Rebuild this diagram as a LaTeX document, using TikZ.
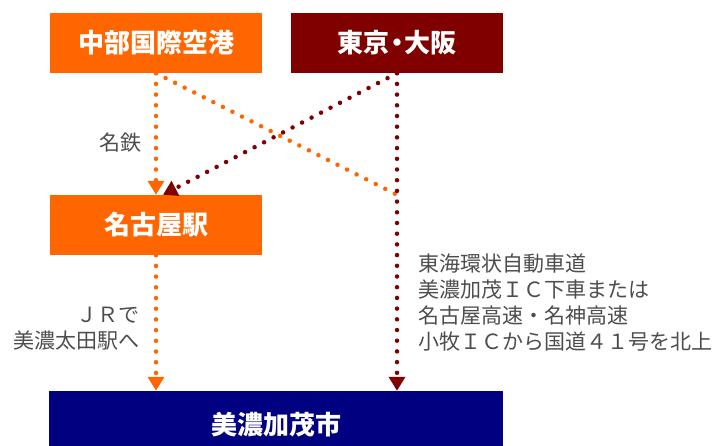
\documentclass[tikz,border=0pt]{standalone}
\usepackage{fontspec}
\setmainfont{Noto Sans CJK JP}
\usepackage{tikz}
\usetikzlibrary{arrows.meta}
\definecolor{airorange}{HTML}{FF6600}
\definecolor{routered}{HTML}{800000}
\definecolor{citynavy}{HTML}{000080}
\definecolor{labelgrey}{HTML}{4D4D4D}
\tikzset{
placebox/.style={shape=rectangle, minimum width=212pt, minimum height=60pt, inner sep=0pt, text=white, font=\fontsize{26}{30}\selectfont\bfseries},
route/.style={line width=4.5pt, line cap=round, dash pattern=on 0pt off 10.7pt},
routetip/.style={-{Triangle[width=16pt,length=14pt]}},
routelabel/.style={inner sep=0pt, text=labelgrey, font=\fontsize{21}{26}\selectfont}}

\begin{document}
\begin{tikzpicture}[x=1pt, y=-1pt]
        
                    \useasboundingbox (0,0) rectangle (717,446);
                    \clip (0,0) rectangle (717,446);
                
                    \node[placebox, fill=airorange] (airport) at (156,43) {中部国際空港};
                    \node[placebox, fill=routered] (tokyo) at (397,43) {東京\kern-5.5pt・\kern-5.5pt大阪};
                    \node[placebox, fill=airorange] (nagoya) at (156,225) {名古屋駅};
                    \node[placebox, fill=citynavy, minimum width=454pt, minimum height=68pt] (minokamo) at (276,425) {美濃加茂市};
                    \coordinate (junction) at (tokyo.south |- nagoya.north);
                
                    \node[routelabel, anchor=east] (meitetsu) at (142,143) {名鉄};
                    \node[routelabel, anchor=east, align=right] (jrline) at (140,329) {ＪＲで\\美濃太田駅へ};
                    \node[routelabel, anchor=west, align=left] (highway) at (418,303) {東海環状自動車道\\美濃加茂ＩＣ下車または\\名古屋高速・名神高速\\小牧ＩＣから国道４１号を北上};
                
                    \draw[route, routetip, airorange] (airport.south) -- (nagoya.north);
                    \draw[route, airorange] (airport.south) -- (junction);
                    \draw[route, routetip, airorange] (nagoya.south) -- (nagoya.south |- minokamo.north);
                    \draw[route, routetip, routered] (tokyo.south) -- ([xshift=7pt]nagoya.north);
                    \draw[route, routetip, routered] (tokyo.south) -- (tokyo.south |- minokamo.north);
            
                \end{tikzpicture}
\end{document}
